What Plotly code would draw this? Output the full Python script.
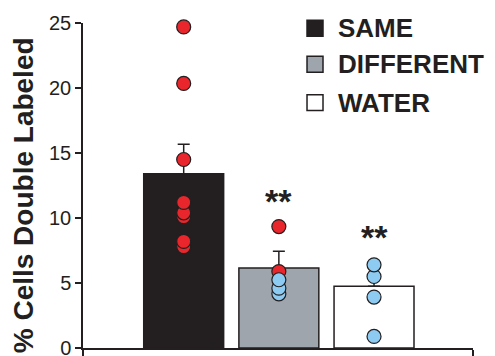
import plotly.graph_objects as go

# Group means (% of cells double labeled) with SEM
groups = ["SAME", "DIFFERENT", "WATER"]
group_x = [0, 1, 2]
means = [13.4, 6.15, 4.75]
sems = [2.28, 1.3, 1.0]
bar_colors = ["#231f20", "#9ea5ad", "#ffffff"]

# Individual animals: red = one marker type, blue = the other
red_x = [0, 0, 0, 0, 0, 0, 0, 0, 1, 1]
red_y = [7.8, 8.2, 10.1, 10.4, 11.2, 14.5, 20.35, 24.7, 5.88, 9.34]
blue_x = [1, 1, 1, 2, 2, 2, 2]
blue_y = [4.17, 4.6, 5.25, 0.89, 3.92, 5.5, 6.4]

# Significance markers
star_x = [1, 2]
star_y = [11.65, 8.83]
star_text = ["**", "**"]

y_title = "% Cells Double Labeled"

ink = "#231f20"
red = "#e8262b"
blue = "#8ecbf2"
font_family = "Liberation Sans, Arial, sans-serif"

fig = go.Figure()

fig.add_trace(go.Bar(
    x=group_x, y=means, width=0.84,
    marker=dict(color=bar_colors, line=dict(color=ink, width=1.5)),
    error_y=dict(type="data", array=sems, arrayminus=[0, 0, 0], symmetric=False,
                 color=ink, thickness=1.5, width=6),
    showlegend=False, hoverinfo="skip",
))

# Points drawn low-to-high so upper circles sit over lower ones
fig.add_trace(go.Scatter(
    x=red_x, y=red_y, mode="markers",
    marker=dict(size=14, color=red, line=dict(color=ink, width=1.2)),
    cliponaxis=False, showlegend=False,
))
fig.add_trace(go.Scatter(
    x=blue_x, y=blue_y, mode="markers",
    marker=dict(size=14, color=blue, line=dict(color=ink, width=1.2)),
    cliponaxis=False, showlegend=False,
))

for sx, sy, st in zip(star_x, star_y, star_text):
    fig.add_annotation(x=sx, y=sy, text=st, showarrow=False, yshift=-4,
                       font=dict(family=font_family, size=34, color=ink, weight="bold"))

# Key: swatch + label per group, stacked in the upper right
key_x = 0.5949          # swatch centre (paper)
key_y = [0.9837, 0.873, 0.755]
for name, col, ky in zip(groups, bar_colors, key_y):
    fig.add_shape(type="rect", xref="paper", yref="paper",
                  x0=key_x - 0.0205, x1=key_x + 0.0205,
                  y0=ky - 0.0246, y1=ky + 0.0246,
                  fillcolor=col, line=dict(color=ink, width=1.5))
    fig.add_annotation(x=key_x + 0.0538, y=ky, xref="paper", yref="paper",
                       text=name, showarrow=False, xanchor="left", yanchor="middle",
                       font=dict(family=font_family, size=26, color=ink, weight="bold"))

# Y-axis title placed as a rotated label
fig.add_annotation(x=-0.1538, y=0.47, xref="paper", yref="paper",
                   text=y_title, textangle=-90, showarrow=False,
                   xanchor="center", yanchor="middle",
                   font=dict(family=font_family, size=28, color=ink, weight="bold"))

fig.update_layout(
    width=495, height=356,
    margin=dict(l=83, r=22, t=23, b=8),
    paper_bgcolor="white", plot_bgcolor="white",
    font=dict(family=font_family, color=ink),
    showlegend=False,
    xaxis=dict(range=[-1.058, 3.04], showgrid=False, zeroline=False,
               showline=True, linecolor=ink, linewidth=1.5, automargin=False,
               tickmode="array", tickvals=[-1.058, 3.04], ticktext=["", ""],
               ticks="outside", ticklen=6, tickcolor=ink, tickwidth=1.5),
    yaxis=dict(range=[0, 25], dtick=5, showgrid=False, zeroline=False,
               showline=True, linecolor=ink, linewidth=1.5, automargin=False,
               ticks="outside", ticklen=6, tickcolor=ink, tickwidth=1.5,
               ticklabeloverflow="allow",
               tickfont=dict(family=font_family, size=20, color=ink)),
)

fig.write_html("out.html")
